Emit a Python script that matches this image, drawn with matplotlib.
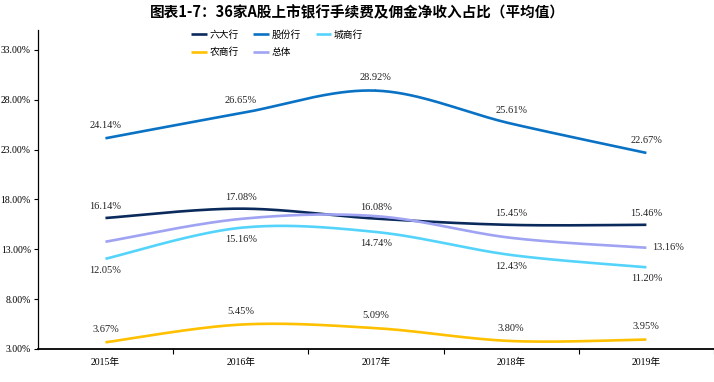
import numpy as np
import matplotlib.pyplot as plt

plt.rcParams['font.family'] = ['Liberation Serif', 'Noto Sans CJK SC', 'DejaVu Sans']

years = ["2015年", "2016年", "2017年", "2018年", "2019年"]
liuda = [16.14, 17.08, 16.08, 15.45, 15.46]
gufen = [24.14, 26.65, 28.92, 25.61, 22.67]
chengshang = [12.05, 15.16, 14.74, 12.43, 11.20]
nongshang = [3.67, 5.45, 5.09, 3.80, 3.95]
zongti = [13.76, 16.05, 16.33, 14.15, 13.16]

names = ["六大行", "股份行", "城商行", "农商行", "总体"]
colors = ["#0b2a5c", "#0a72c4", "#55d4fb", "#ffc000", "#9fa3f2"]


def smooth(y, n=40):
    # catmull-rom like excel's smoothed line
    y = np.asarray(y, dtype=float)
    x = np.arange(len(y), dtype=float)
    px = np.concatenate([[x[0]], x, [x[-1]]])
    py = np.concatenate([[y[0]], y, [y[-1]]])
    xs, ys = [], []
    for i in range(1, len(px) - 2):
        t = np.linspace(0, 1, n)
        for p, out in ((px, xs), (py, ys)):
            p0, p1, p2, p3 = p[i - 1], p[i], p[i + 1], p[i + 2]
            out.append(0.5 * ((2 * p1) + (-p0 + p2) * t
                              + (2 * p0 - 5 * p1 + 4 * p2 - p3) * t ** 2
                              + (-p0 + 3 * p1 - 3 * p2 + p3) * t ** 3))
    return np.concatenate(xs), np.concatenate(ys)


fig = plt.figure(figsize=(7.14, 3.82), dpi=100)
ax = fig.add_axes([0.053, 0.0864, 0.947, 0.835])

series = [liuda, gufen, chengshang, nongshang, zongti]
lines = []
for vals, name, c in zip(series, names, colors):
    sx, sy = smooth(vals)
    ln, = ax.plot(sx, sy, color=c, lw=1.9, label=name, solid_capstyle='butt')
    lines.append(ln)

lab = dict(fontsize=7.5, color="#222222", ha="center")
for i, v in enumerate(gufen):
    ax.annotate(f"{v:.2f}%", (i, v), xytext=(0, 6), textcoords="offset points", va="bottom", **lab)
for i, v in enumerate(liuda):
    ax.annotate(f"{v:.2f}%", (i, v), xytext=(0, 5), textcoords="offset points", va="bottom", **lab)
for i, v in enumerate(chengshang):
    ax.annotate(f"{v:.2f}%", (i, v), xytext=(0, -5), textcoords="offset points", va="top", **lab)
for i, v in enumerate(nongshang):
    ax.annotate(f"{v:.2f}%", (i, v), xytext=(0, 6), textcoords="offset points", va="bottom", **lab)
ax.annotate(f"{zongti[-1]:.2f}%", (4, zongti[-1]), xytext=(4, 0), textcoords="offset points",
            va="center", ha="left", fontsize=7.5, color="#222222")

ax.set_xlim(-0.5, 4.5)
ax.set_ylim(3, 35)
ax.set_yticks(np.arange(3, 34, 5))
ax.set_yticklabels([f"{t:.2f}%" for t in np.arange(3, 34, 5)], fontsize=7)
ax.set_xticks(range(5))
ax.set_xticklabels(years, fontsize=7)
ax.set_xticks(np.arange(0.5, 4.6, 1), minor=True)
ax.tick_params(axis='x', which='major', length=0, pad=6)
ax.tick_params(axis='x', which='minor', length=3.5, width=0.8, direction='out')
ax.tick_params(axis='y', length=3, width=0.8, pad=2)

for s in ("top", "right"):
    ax.spines[s].set_visible(False)
ax.spines["left"].set_linewidth(0.9)
ax.spines["bottom"].set_linewidth(1.3)

# legend fills column by column, so order for row-wise layout
order = [0, 3, 1, 4, 2]
fig.legend([lines[i] for i in order], [names[i] for i in order],
           loc="upper left", bbox_to_anchor=(0.258, 0.94), ncol=3, frameon=False,
           handlelength=1.6, handletextpad=0.3, columnspacing=1.5,
           labelspacing=0.75, borderpad=0.2, prop={'family': ['Noto Sans CJK SC'], 'size': 7})

fig.text(0.5, 0.968, "图表1-7：36家A股上市银行手续费及佣金净收入占比（平均值）",
         ha="center", va="center", fontsize=10.5, fontweight="bold",
         family=['Noto Sans CJK SC', 'DejaVu Sans'])

fig.savefig("out.png", dpi=100)
